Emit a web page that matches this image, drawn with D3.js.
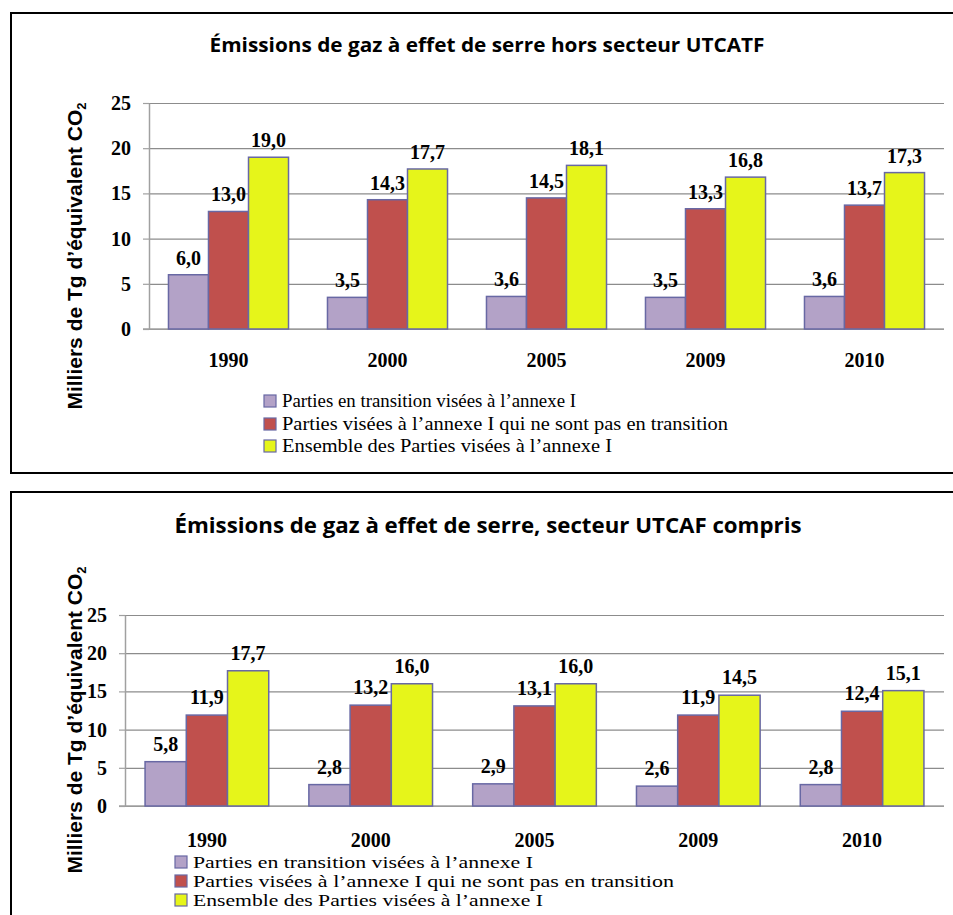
<!DOCTYPE html>
<html>
<head>
<meta charset="utf-8">
<script src="https://cdn.jsdelivr.net/npm/d3@7"></script>
<style>
  body { margin: 0; background: #fff; }
  svg { display: block; }
</style>
</head>
<body>
<svg id="chart" width="953" height="915"></svg>
<script>
// categories and series names
var years = ["1990", "2000", "2005", "2009", "2010"];
var seriesNames = [
  "Parties en transition visées à l\u2019annexe I",
  "Parties visées à l\u2019annexe I qui ne sont pas en transition",
  "Ensemble des Parties visées à l\u2019annexe I"
];
var seriesColors = ["#b3a2c7", "#c0504d", "#e6f51a"];
var yTicks = [0, 5, 10, 15, 20, 25];

// hors UTCATF
var horsTransition = [6.0, 3.5, 3.6, 3.5, 3.6];
var horsNonTransition = [13.0, 14.3, 14.5, 13.3, 13.7];
var horsEnsemble = [19.0, 17.7, 18.1, 16.8, 17.3];

// UTCAF compris
var avecTransition = [5.8, 2.8, 2.9, 2.6, 2.8];
var avecNonTransition = [11.9, 13.2, 13.1, 11.9, 12.4];
var avecEnsemble = [17.7, 16.0, 16.0, 14.5, 15.1];

var svg = d3.select("#chart");

function fmt(v) { return v.toFixed(1).replace(".", ","); }

var serif = "'Liberation Serif', 'Times New Roman', serif";

function drawPanel(p) {
  var g = svg.append("g");

  // frame (right/bottom edge off the page like the original)
  g.append("rect")
    .attr("x", p.box[0]).attr("y", p.box[1])
    .attr("width", p.box[2]).attr("height", p.box[3])
    .attr("fill", "none").attr("stroke", "#000").attr("stroke-width", 2);

  g.append("text")
    .attr("x", p.titleX).attr("y", p.titleY)
    .attr("text-anchor", "middle")
    .attr("font-family", "'Open Sans', sans-serif")
    .attr("font-weight", "bold")
    .attr("font-size", p.titleSize)
    .attr("textLength", p.titleLen)
    .attr("lengthAdjust", "spacingAndGlyphs")
    .text(p.title);

  var x = d3.scaleBand().domain(years).range([p.left, p.right])
    .paddingInner(0.245).paddingOuter(0.1225);
  var x1 = d3.scaleBand().domain([0, 1, 2]).range([0, x.bandwidth()]);
  var y = d3.scaleLinear().domain([0, 25]).range([p.bottom, p.top]);

  // gridlines
  g.append("g")
    .attr("transform", "translate(" + p.left + ",0)")
    .call(d3.axisLeft(y).tickValues(yTicks).tickSize(-(p.right - p.left)).tickFormat(""))
    .call(function(s) {
      s.select(".domain").remove();
      s.selectAll("line").attr("stroke", "#8c8c8c").attr("stroke-width", 1.2);
    });

  // y axis
  g.append("g")
    .attr("transform", "translate(" + p.left + ",0)")
    .call(d3.axisLeft(y).tickValues(yTicks).tickSize(6).tickSizeOuter(0).tickPadding(p.tickPad))
    .call(function(s) {
      s.attr("font-family", serif).attr("font-size", 20).attr("font-weight", "bold");
      s.select(".domain").attr("stroke", "#a0a0a0").attr("stroke-width", 1.5);
      s.selectAll("line").attr("stroke", "#a0a0a0").attr("stroke-width", 1.2);
      s.selectAll("text").attr("fill", "#000");
    });

  // baseline
  g.append("line")
    .attr("x1", p.left - 6).attr("x2", p.right)
    .attr("y1", y(0)).attr("y2", y(0))
    .attr("stroke", "#a0a0a0").attr("stroke-width", 1.5);

  var rows = [];
  years.forEach(function(yr, i) {
    p.series.forEach(function(arr, k) {
      rows.push({ year: yr, k: k, v: arr[i] });
    });
  });

  g.selectAll("rect.bar")
    .data(rows)
    .enter()
    .append("rect")
    .attr("class", "bar")
    .attr("x", function(d) { return x(d.year) + x1(d.k); })
    .attr("y", function(d) { return y(d.v); })
    .attr("width", x1.bandwidth())
    .attr("height", function(d) { return y(0) - y(d.v); })
    .attr("fill", function(d) { return seriesColors[d.k]; })
    .attr("stroke", "#6868a4")
    .attr("stroke-width", 1.5);

  g.selectAll("text.val")
    .data(rows)
    .enter()
    .append("text")
    .attr("class", "val")
    .attr("x", function(d) { return x(d.year) + x1(d.k) + x1.bandwidth() / 2; })
    .attr("y", function(d) { return y(d.v) - p.labelGap; })
    .attr("text-anchor", "middle")
    .attr("font-family", serif)
    .attr("font-weight", "bold")
    .attr("font-size", 20)
    .text(function(d) { return fmt(d.v); });

  // year labels
  g.selectAll("text.yr")
    .data(years)
    .enter()
    .append("text")
    .attr("class", "yr")
    .attr("x", function(d) { return x(d) + x.bandwidth() / 2; })
    .attr("y", p.yearY)
    .attr("text-anchor", "middle")
    .attr("font-family", serif)
    .attr("font-weight", "bold")
    .attr("font-size", 20)
    .text(function(d) { return d; });

  // y label
  var yl = g.append("text")
    .attr("transform", "translate(" + p.ylabX + "," + p.ylabY + ") rotate(-90)")
    .attr("text-anchor", "middle")
    .attr("font-family", "'Liberation Sans', Arial, sans-serif")
    .attr("font-weight", "bold")
    .attr("font-size", 21);
  yl.append("tspan").text("Milliers de Tg d\u2019équivalent CO");
  yl.append("tspan").attr("dy", 4).attr("font-size", 13).text("2");

  // legend
  var leg = g.selectAll("g.leg")
    .data(seriesNames)
    .enter()
    .append("g")
    .attr("class", "leg")
    .attr("transform", function(d, i) { return "translate(" + p.legX + "," + p.legY[i] + ")"; });
  leg.append("rect")
    .attr("x", 0).attr("y", -6).attr("width", 12).attr("height", 12)
    .attr("fill", function(d, i) { return seriesColors[i]; })
    .attr("stroke", "#6868a4").attr("stroke-width", 1.2);
  leg.append("text")
    .attr("x", 18).attr("y", 0).attr("dy", "0.35em")
    .attr("font-family", serif)
    .attr("font-size", p.legSize)
    .attr("textLength", function(d, i) { return p.legLen[i]; })
    .attr("lengthAdjust", "spacingAndGlyphs")
    .text(function(d) { return d; });
}

drawPanel({
  box: [11, 13, 960, 460],
  title: "Émissions de gaz à effet de serre hors secteur UTCATF",
  titleX: 487, titleY: 52, titleSize: 20, titleLen: 555,
  left: 149, right: 944, top: 103, bottom: 329,
  tickPad: 12, labelGap: 10,
  yearY: 367,
  ylabX: 82, ylabY: 256,
  legX: 264, legY: [401, 424, 446], legSize: 18, legLen: [294, 446, 330],
  series: [horsTransition, horsNonTransition, horsEnsemble]
});

drawPanel({
  box: [11, 492, 960, 440],
  title: "Émissions de gaz à effet de serre, secteur UTCAF compris",
  titleX: 488, titleY: 533, titleSize: 22, titleLen: 627,
  left: 125, right: 944, top: 615, bottom: 806,
  tickPad: 12, labelGap: 11,
  yearY: 847,
  ylabX: 82, ylabY: 720,
  legX: 175, legY: [862, 881, 900], legSize: 17.5, legLen: [340, 481, 350],
  series: [avecTransition, avecNonTransition, avecEnsemble]
});
</script>
</body>
</html>
